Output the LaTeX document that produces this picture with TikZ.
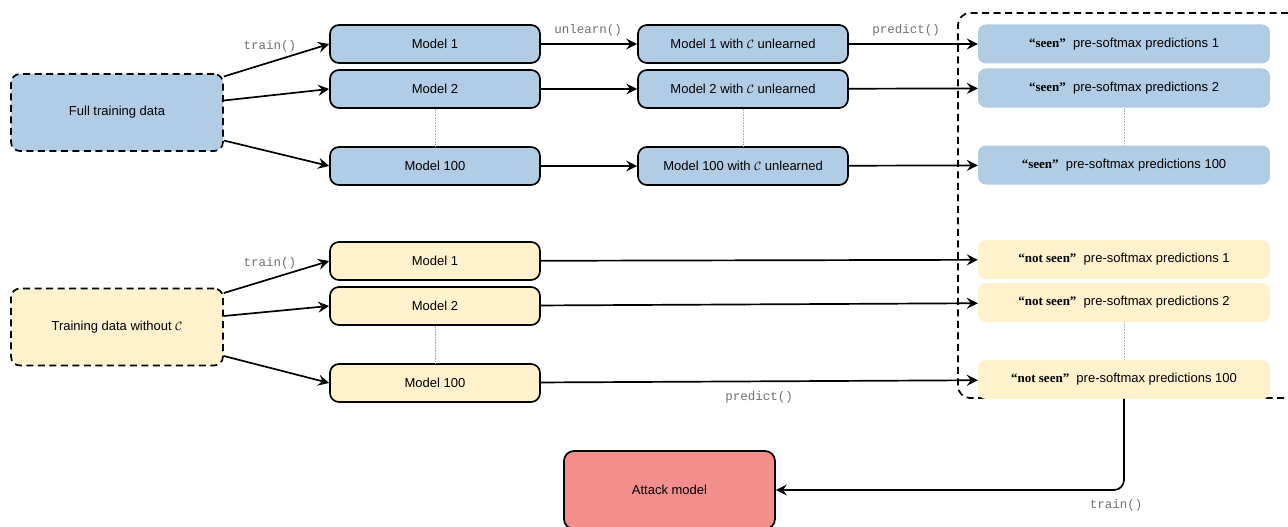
\documentclass[tikz,border=0pt]{standalone}
\usepackage{amsmath}
\usepackage{amssymb}
\usepackage{xcolor}
\usepackage{fontspec}
\setmainfont{Liberation Serif}
\setsansfont{Liberation Sans}
\setmonofont{Liberation Mono}
\usetikzlibrary{arrows.meta}

\definecolor{seenblue}{HTML}{B1CCE5}
\definecolor{notseenyellow}{HTML}{FFF2CC}
\definecolor{attackred}{HTML}{F28F8C}
\definecolor{codegray}{HTML}{707070}

\tikzset{
  model/.style={draw, line width=1.7pt, rounded corners=9pt, minimum width=210pt, minimum height=38pt, font=\sffamily\fontsize{13}{15}\selectfont},
  databox/.style={draw, line width=1.7pt, dash pattern=on 7pt off 4.5pt, rounded corners=9pt, minimum width=212pt, minimum height=77pt, font=\sffamily\fontsize{13}{15}\selectfont},
  predbox/.style={rounded corners=8pt, minimum width=292pt, minimum height=39pt, font=\sffamily\fontsize{13}{15}\selectfont},
  codelabel/.style={text=codegray, font=\ttfamily\fontsize{12.5}{14}\selectfont},
  link/.style={->, line width=1.7pt},
  sep/.style={densely dotted, gray!60, line width=0.6pt},
}

\newcommand{\seen}{{\rmfamily\bfseries ``seen''}~~}
\newcommand{\notseen}{{\rmfamily\bfseries ``not~seen''}~~}

\begin{document}
\begin{tikzpicture}[x=1pt, y=-1pt, >={Stealth[length=11pt, width=11pt, inset=4pt]}]
\useasboundingbox (0,0) rectangle (1288,527);

% group of the pre-softmax outputs
\node[draw, line width=1.7pt, dash pattern=on 7pt off 4.5pt, rounded corners=12pt, minimum width=342pt, minimum height=385pt] (preds) at (1129,205.5) {};

% full training data branch
\node[databox, fill=seenblue] (full) at (117,112.5) {Full training data};
\node[model, fill=seenblue] (m1) at (435,44) {Model 1};
\node[model, fill=seenblue] (m2) at (435,89) {Model 2};
\node[model, fill=seenblue] (m100) at (435,166) {Model 100};
\node[model, fill=seenblue] (u1) at (743,44) {Model 1 with $\mathcal{C}$ unlearned};
\node[model, fill=seenblue] (u2) at (743,89) {Model 2 with $\mathcal{C}$ unlearned};
\node[model, fill=seenblue] (u100) at (743,166) {Model 100 with $\mathcal{C}$ unlearned};
\node[predbox, fill=seenblue] (s1) at (1124,44) {\seen pre-softmax predictions 1};
\node[predbox, fill=seenblue] (s2) at (1124,88) {\seen pre-softmax predictions 2};
\node[predbox, fill=seenblue] (s100) at (1124,165) {\seen pre-softmax predictions 100};

\draw[link] ([yshift=36pt]full.east) -- (m1.west);
\draw[link] ([yshift=12pt]full.east) -- (m2.west);
\draw[link] ([yshift=-28pt]full.east) -- (m100.west);
\draw[link] (m1) -- (u1);
\draw[link] (m2) -- (u2);
\draw[link] (m100) -- (u100);
\draw[link] (u1) -- (s1);
\draw[link] (u2) -- (s2);
\draw[link] (u100) -- (s100);
\draw[sep] (m2) -- (m100);
\draw[sep] (u2) -- (u100);
\draw[sep] (s2) -- (s100);

\node[codelabel] (trainA) at (270,46) {train()};
\node[codelabel] (unlearn) at (588,30) {unlearn()};
\node[codelabel] (predictA) at (906,30) {predict()};

% training data without C branch
\node[databox, fill=notseenyellow] (nofull) at (117,327) {Training data without $\mathcal{C}$};
\node[model, fill=notseenyellow] (n1) at (435,261) {Model 1};
\node[model, fill=notseenyellow] (n2) at (435,306) {Model 2};
\node[model, fill=notseenyellow] (n100) at (435,383) {Model 100};
\node[predbox, fill=notseenyellow] (p1) at (1124,259.5) {\notseen pre-softmax predictions 1};
\node[predbox, fill=notseenyellow] (p2) at (1124,302.5) {\notseen pre-softmax predictions 2};
\node[predbox, fill=notseenyellow] (p100) at (1124,379.5) {\notseen pre-softmax predictions 100};

\draw[link] ([yshift=34pt]nofull.east) -- (n1.west);
\draw[link] ([yshift=11pt]nofull.east) -- (n2.west);
\draw[link] ([yshift=-29pt]nofull.east) -- (n100.west);
\draw[link] (n1) -- (p1);
\draw[link] (n2) -- (p2);
\draw[link] (n100) -- (p100);
\draw[sep] (n2) -- (n100);
\draw[sep] (p2) -- (p100);

\node[codelabel] (trainB) at (270,263) {train()};
\node[codelabel] (predictB) at (759,397) {predict()};

% attack model
\node[draw, line width=1.7pt, rounded corners=10pt, fill=attackred, minimum width=211pt, minimum height=78pt, font=\sffamily\fontsize{13}{15}\selectfont] (attack) at (669.5,490) {Attack model};
\draw[link, rounded corners=10pt] (p100 |- preds.south) |- (attack.east);
\node[codelabel] (trainC) at (1116,505) {train()};
\end{tikzpicture}
\end{document}
